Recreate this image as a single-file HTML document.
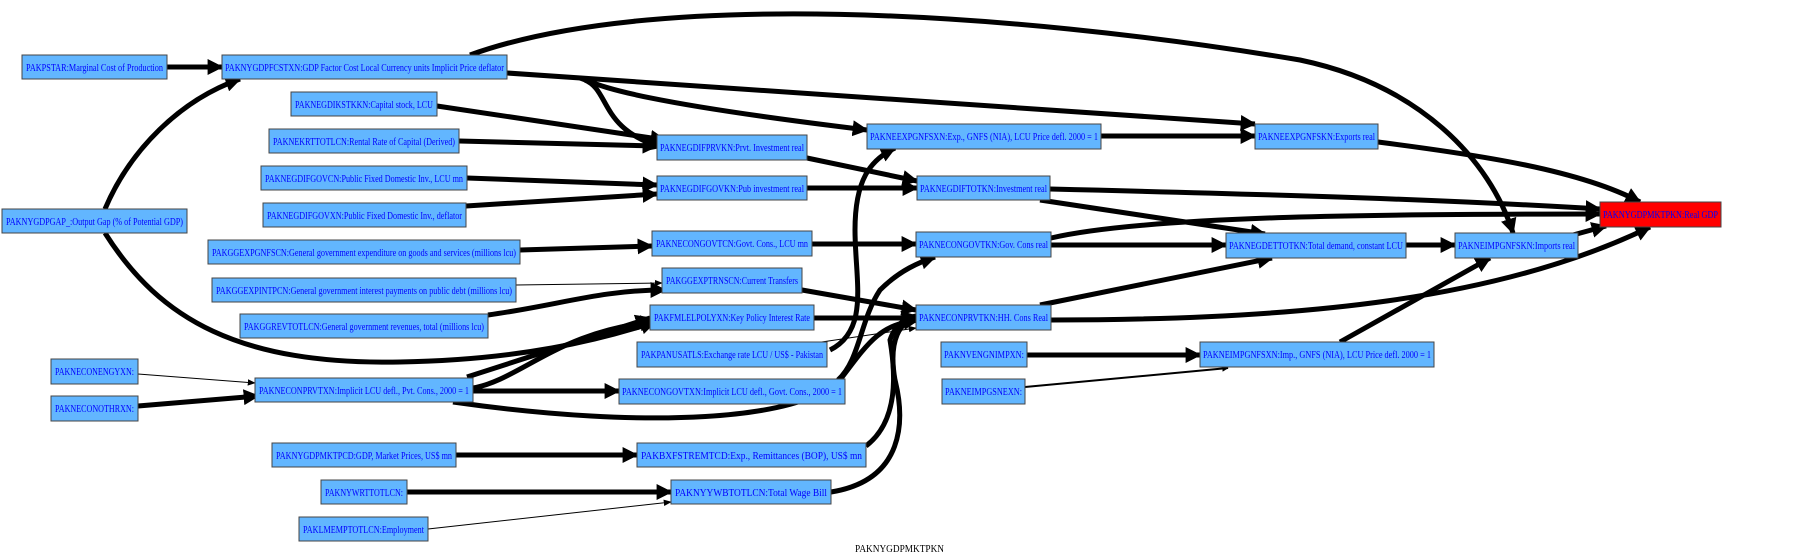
<!DOCTYPE html>
<html><head><meta charset="utf-8"><style>
html,body{margin:0;padding:0;background:#fff;width:1800px;height:560px;overflow:hidden}
svg text{font-family:"Liberation Serif",serif;font-size:11px;fill:#0000ff}
</style></head><body>
<svg width="1800" height="560" viewBox="0 0 1800 560" xmlns="http://www.w3.org/2000/svg">
<defs>
<marker id="a" viewBox="0 0 10 10" refX="9" refY="5" markerWidth="3.2" markerHeight="3.2" orient="auto" markerUnits="strokeWidth"><path d="M0,0L10,5L0,10z" fill="#000"/></marker>
<marker id="t" viewBox="0 0 10 10" refX="9" refY="5" markerWidth="8" markerHeight="8" orient="auto" markerUnits="strokeWidth"><path d="M0,1L10,5L0,9z" fill="#000"/></marker>
</defs>
<g fill="none" stroke="#000" stroke-width="5" marker-end="url(#a)">
<path d="M167,67 L222,67"/>
<path d="M105,209 C130,150 180,100 240,79"/>
<path d="M105,233 C160,320 240,365 400,362 C520,360 600,340 655,322"/>
<path d="M470,55 C650,-10 1000,10 1300,60 C1420,85 1490,160 1513,233"/>
<path d="M507,73 L1255,124"/>
<path d="M580,78 C600,85 620,100 867,130"/>
<path d="M585,80 C610,90 600,130 662,147"/>
<path d="M437,106 L665,140"/>
<path d="M459,141 L657,146"/>
<path d="M467,178 L657,185"/>
<path d="M466,206 L657,194"/>
<path d="M807,158 L917,181"/>
<path d="M807,188 L917,188"/>
<path d="M1050,189 C1300,195 1450,200 1600,209"/>
<path d="M1040,200 L1265,234"/>
<path d="M1101,136 L1255,136"/>
<path d="M1378,142 C1480,155 1580,170 1640,202"/>
<path d="M812,244 L916,244"/>
<path d="M520,250 L652,246"/>
<path d="M488,315 C560,305 600,290 665,290"/>
<path d="M802,290 L916,310"/>
<path d="M814,318 L916,318"/>
<path d="M830,350 C870,330 855,280 855,230 C855,180 870,160 895,148"/>
<path d="M838,380 C860,360 860,320 880,290 C900,270 920,262 935,257"/>
<path d="M1051,238 C1150,215 1400,214 1600,214"/>
<path d="M1051,245 L1226,245"/>
<path d="M1040,305 L1272,258"/>
<path d="M1051,320 C1300,320 1500,300 1650,227"/>
<path d="M1406,245 L1455,245"/>
<path d="M1573,235 L1606,226"/>
<path d="M1027,355 L1200,355"/>
<path d="M1340,342 L1490,258"/>
<path d="M138,406 L258,396"/>
<path d="M467,377 L650,318"/>
<path d="M473,388 C520,380 560,330 655,322"/>
<path d="M473,391 L619,391"/>
<path d="M453,402 C650,430 800,420 840,380 C870,340 880,325 918,320"/>
<path d="M456,455 L637,455"/>
<path d="M866,446 C900,420 895,370 890,340 C895,325 905,318 916,316"/>
<path d="M831,492 C905,480 905,420 895,380 C888,340 900,320 918,318"/>
<path d="M407,492 L671,492"/>
</g>
<g fill="none" stroke="#000" stroke-width="1" marker-end="url(#t)">
<path d="M516,285 L662,283"/>
<path d="M815,343 L916,328"/>
<path d="M138,374 L255,383"/>
<path d="M428,529 L671,502"/>
</g>
<path d="M1025,387 L1228,368" fill="none" stroke="#000" stroke-width="2" marker-end="url(#a)"/>
<g stroke="#444" stroke-width="1" fill="#62b6ff">
<rect x="22" y="55" width="145" height="24"/>
<rect x="222" y="55" width="285" height="24"/>
<rect x="291" y="92" width="146" height="24"/>
<rect x="269" y="129" width="190" height="24"/>
<rect x="261" y="166" width="206" height="24"/>
<rect x="263" y="203" width="203" height="24"/>
<rect x="2" y="209" width="185" height="24"/>
<rect x="208" y="240" width="312" height="24"/>
<rect x="212" y="278" width="304" height="24"/>
<rect x="240" y="314" width="248" height="24"/>
<rect x="51" y="359" width="87" height="25"/>
<rect x="51" y="396" width="87" height="25"/>
<rect x="255" y="378" width="218" height="24"/>
<rect x="272" y="443" width="184" height="24"/>
<rect x="321" y="480" width="86" height="24"/>
<rect x="299" y="517" width="129" height="24"/>
<rect x="657" y="135" width="150" height="25"/>
<rect x="657" y="176" width="150" height="24"/>
<rect x="652" y="231" width="160" height="25"/>
<rect x="662" y="268" width="140" height="25"/>
<rect x="650" y="305" width="164" height="25"/>
<rect x="637" y="342" width="190" height="25"/>
<rect x="619" y="379" width="226" height="25"/>
<rect x="637" y="443" width="229" height="24"/>
<rect x="671" y="480" width="160" height="24"/>
<rect x="867" y="124" width="234" height="25"/>
<rect x="917" y="176" width="133" height="24"/>
<rect x="916" y="232" width="135" height="25"/>
<rect x="916" y="305" width="135" height="25"/>
<rect x="941" y="342" width="86" height="25"/>
<rect x="942" y="379" width="83" height="25"/>
<rect x="1255" y="124" width="123" height="25"/>
<rect x="1226" y="233" width="180" height="25"/>
<rect x="1455" y="233" width="123" height="25"/>
<rect x="1200" y="342" width="234" height="25"/>
<rect x="1600" y="202" width="121" height="25" fill="#ff0000"/>
</g>
<g>
<text x="26" y="71" textLength="137" lengthAdjust="spacingAndGlyphs">PAKPSTAR:Marginal Cost of Production</text>
<text x="225" y="71" textLength="279" lengthAdjust="spacingAndGlyphs">PAKNYGDPFCSTXN:GDP Factor Cost Local Currency units Implicit Price deflator</text>
<text x="295" y="108" textLength="138" lengthAdjust="spacingAndGlyphs">PAKNEGDIKSTKKN:Capital stock, LCU</text>
<text x="273" y="145" textLength="182" lengthAdjust="spacingAndGlyphs">PAKNEKRTTOTLCN:Rental Rate of Capital (Derived)</text>
<text x="265" y="182" textLength="198" lengthAdjust="spacingAndGlyphs">PAKNEGDIFGOVCN:Public Fixed Domestic Inv., LCU mn</text>
<text x="267" y="219" textLength="195" lengthAdjust="spacingAndGlyphs">PAKNEGDIFGOVXN:Public Fixed Domestic Inv., deflator</text>
<text x="6" y="225" textLength="177" lengthAdjust="spacingAndGlyphs">PAKNYGDPGAP_:Output Gap (% of Potential GDP)</text>
<text x="212" y="256" textLength="304" lengthAdjust="spacingAndGlyphs">PAKGGEXPGNFSCN:General government expenditure on goods and services (millions lcu)</text>
<text x="216" y="294" textLength="296" lengthAdjust="spacingAndGlyphs">PAKGGEXPINTPCN:General government interest payments on public debt (millions lcu)</text>
<text x="244" y="330" textLength="240" lengthAdjust="spacingAndGlyphs">PAKGGREVTOTLCN:General government revenues, total (millions lcu)</text>
<text x="55" y="375" textLength="79" lengthAdjust="spacingAndGlyphs">PAKNECONENGYXN:</text>
<text x="55" y="412" textLength="79" lengthAdjust="spacingAndGlyphs">PAKNECONOTHRXN:</text>
<text x="259" y="394" textLength="210" lengthAdjust="spacingAndGlyphs">PAKNECONPRVTXN:Implicit LCU defl., Pvt. Cons., 2000 = 1</text>
<text x="276" y="459" textLength="176" lengthAdjust="spacingAndGlyphs">PAKNYGDPMKTPCD:GDP, Market Prices, US$ mn</text>
<text x="325" y="496" textLength="78" lengthAdjust="spacingAndGlyphs">PAKNYWRTTOTLCN:</text>
<text x="303" y="533" textLength="121" lengthAdjust="spacingAndGlyphs">PAKLMEMPTOTLCN:Employment</text>
<text x="660" y="151" textLength="144" lengthAdjust="spacingAndGlyphs">PAKNEGDIFPRVKN:Prvt. Investment real</text>
<text x="660" y="192" textLength="144" lengthAdjust="spacingAndGlyphs">PAKNEGDIFGOVKN:Pub investment real</text>
<text x="656" y="247" textLength="152" lengthAdjust="spacingAndGlyphs">PAKNECONGOVTCN:Govt. Cons., LCU mn</text>
<text x="666" y="284" textLength="132" lengthAdjust="spacingAndGlyphs">PAKGGEXPTRNSCN:Current Transfers</text>
<text x="654" y="321" textLength="156" lengthAdjust="spacingAndGlyphs">PAKFMLELPOLYXN:Key Policy Interest Rate</text>
<text x="641" y="358" textLength="182" lengthAdjust="spacingAndGlyphs">PAKPANUSATLS:Exchange rate LCU / US$ - Pakistan</text>
<text x="622" y="395" textLength="220" lengthAdjust="spacingAndGlyphs">PAKNECONGOVTXN:Implicit LCU defl., Govt. Cons., 2000 = 1</text>
<text x="641" y="459" textLength="221" lengthAdjust="spacingAndGlyphs">PAKBXFSTREMTCD:Exp., Remittances (BOP), US$ mn</text>
<text x="675" y="496" textLength="152" lengthAdjust="spacingAndGlyphs">PAKNYYWBTOTLCN:Total Wage Bill</text>
<text x="870" y="140" textLength="228" lengthAdjust="spacingAndGlyphs">PAKNEEXPGNFSXN:Exp., GNFS (NIA), LCU Price defl. 2000 = 1</text>
<text x="920" y="192" textLength="127" lengthAdjust="spacingAndGlyphs">PAKNEGDIFTOTKN:Investment real</text>
<text x="919" y="248" textLength="129" lengthAdjust="spacingAndGlyphs">PAKNECONGOVTKN:Gov. Cons real</text>
<text x="919" y="321" textLength="129" lengthAdjust="spacingAndGlyphs">PAKNECONPRVTKN:HH. Cons Real</text>
<text x="944" y="358" textLength="80" lengthAdjust="spacingAndGlyphs">PAKNVENGNIMPXN:</text>
<text x="945" y="395" textLength="77" lengthAdjust="spacingAndGlyphs">PAKNEIMPGSNEXN:</text>
<text x="1258" y="140" textLength="117" lengthAdjust="spacingAndGlyphs">PAKNEEXPGNFSKN:Exports real</text>
<text x="1229" y="249" textLength="174" lengthAdjust="spacingAndGlyphs">PAKNEGDETTOTKN:Total demand, constant LCU</text>
<text x="1458" y="249" textLength="117" lengthAdjust="spacingAndGlyphs">PAKNEIMPGNFSKN:Imports real</text>
<text x="1203" y="358" textLength="228" lengthAdjust="spacingAndGlyphs">PAKNEIMPGNFSXN:Imp., GNFS (NIA), LCU Price defl. 2000 = 1</text>
<text x="1603" y="218" textLength="115" lengthAdjust="spacingAndGlyphs">PAKNYGDPMKTPKN:Real GDP</text>
<text x="855" y="552" textLength="89" lengthAdjust="spacingAndGlyphs" style="fill:#000">PAKNYGDPMKTPKN</text>
</g>
</svg>
</body></html>
